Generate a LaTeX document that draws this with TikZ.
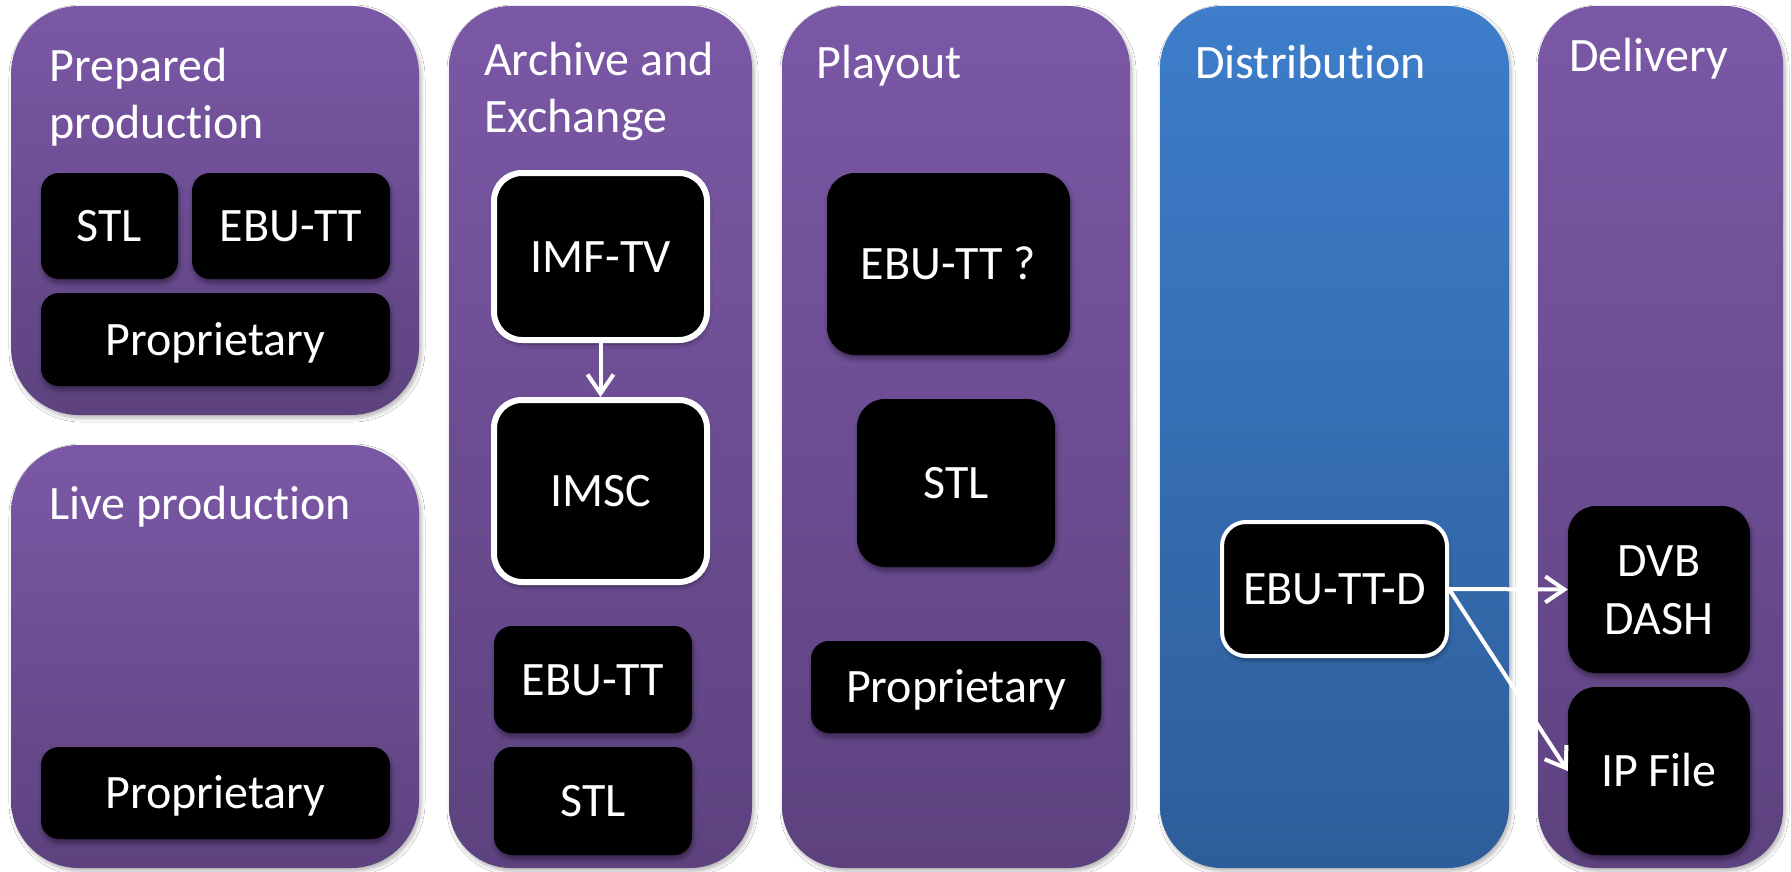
\documentclass[tikz,border=0pt]{standalone}
\usepackage{fontspec}
\setmainfont[RawFeature={-liga}]{Carlito}
\usetikzlibrary{arrows.meta,shadows.blur}
\definecolor{ptop}{HTML}{7B58A6}
\definecolor{pbot}{HTML}{5D427F}
\definecolor{btop}{HTML}{3D7DCA}
\definecolor{bbot}{HTML}{2E5E9A}
\tikzset{
  panel/.style={rounded corners=62pt, top color=ptop, bottom color=pbot, draw=none, inner sep=0pt,
    blur shadow={shadow xshift=2pt, shadow yshift=-3pt, shadow opacity=30, shadow blur steps=6, shadow blur radius=4pt}},
  bluepanel/.style={panel, top color=btop, bottom color=bbot},
  title/.style={anchor=base west, text=white, font=\fontsize{48}{57}\selectfont, inner sep=0pt},
  fmt/.style={fill=black, rounded corners=18pt, text=white, font=\fontsize{48}{58}\selectfont,
    text height=31pt, text depth=0pt, inner sep=0pt,
    blur shadow={shadow xshift=1pt, shadow yshift=-4pt, shadow opacity=40, shadow blur steps=6, shadow blur radius=4pt}},
  bigfmt/.style={fmt, rounded corners=28pt},
  framed/.style={bigfmt, draw=white, line width=6pt},
  flow/.style={draw=white, line width=4pt, -{Straight Barb[length=19pt,width=26pt]}}
}
\begin{document}
\begin{tikzpicture}[x=1pt,y=-1pt]
\useasboundingbox (0,0) rectangle (1791,872);
\fill[white] (0,0) rectangle (1791,872);

% panels
\node[panel, minimum width=408pt, minimum height=409pt, rounded corners=68pt] (prep) at (215,210.5) {};
\node[panel, minimum width=408pt, minimum height=423pt, rounded corners=68pt] (live) at (215,656.5) {};
\node[panel, minimum width=303pt, minimum height=862pt] (arch) at (600.5,437) {};
\node[panel, minimum width=348pt, minimum height=862pt] (play) at (956,437) {};
\node[bluepanel, minimum width=349pt, minimum height=862pt] (dist) at (1334.5,437) {};
\node[panel, minimum width=245pt, minimum height=862pt, rounded corners=58pt] (deli) at (1660.5,437) {};

% titles
\node[title] (tprep) at (49,82) {\vtop{\hbox{Prepared}\hbox{production}}};
\node[title] (tlive) at (49,519) {Live production};
\node[title] (tarch) at (484,76) {\vtop{\hbox{Archive and}\hbox{Exchange}}};
\node[title] (tplay) at (816,79) {Playout};
\node[title] (tdist) at (1195,79) {Distribution};
\node[title] (tdeli) at (1569,72) {Delivery};

% prepared production
\node[fmt, minimum width=137pt, minimum height=106pt] (pstl) at (109.5,226) {STL};
\node[fmt, minimum width=198pt, minimum height=106pt] (pebu) at (291,226) {EBU-TT};
\node[fmt, minimum width=349pt, minimum height=93pt] (pprop) at (215.5,339.5) {Proprietary};

% live production
\node[fmt, minimum width=349pt, minimum height=92pt] (lprop) at (215.5,793) {Proprietary};

% archive and exchange
\node[framed, minimum width=213pt, minimum height=167pt] (imf) at (600.5,256.5) {IMF-TV};
\node[framed, minimum width=213pt, minimum height=182pt] (imsc) at (600.5,491) {IMSC};
\node[fmt, minimum width=198pt, minimum height=107pt] (aebu) at (593,679.5) {EBU-TT};
\node[fmt, minimum width=198pt, minimum height=108pt] (astl) at (593,801) {STL};

% playout
\node[bigfmt, minimum width=243pt, minimum height=182pt] (yebu) at (948.5,264) {EBU-TT ?};
\node[bigfmt, minimum width=198pt, minimum height=168pt] (ystl) at (956,483) {STL};
\node[fmt, minimum width=290pt, minimum height=92pt] (yprop) at (956,687) {Proprietary};

% distribution
\node[fmt, draw=white, line width=4pt, rounded corners=24pt, minimum width=225pt, minimum height=134pt] (ebud) at (1334.5,589) {EBU-TT-D};

% delivery
\node[bigfmt, minimum width=182pt, minimum height=167pt, text depth=58pt] (dvb) at (1659,589.5)
  {\vtop{\hbox to 0pt{\hss DVB\hss}\hbox to 0pt{\hss DASH\hss}}};
\node[bigfmt, minimum width=182pt, minimum height=168pt] (ip) at (1659,771) {IP File};

% connectors
\draw[flow] (imf.south) -- (imsc.north);
\draw[flow] (ebud.east) -- (dvb.west);
\draw[flow] (ebud.east) -- (ip.west);
\end{tikzpicture}
\end{document}
